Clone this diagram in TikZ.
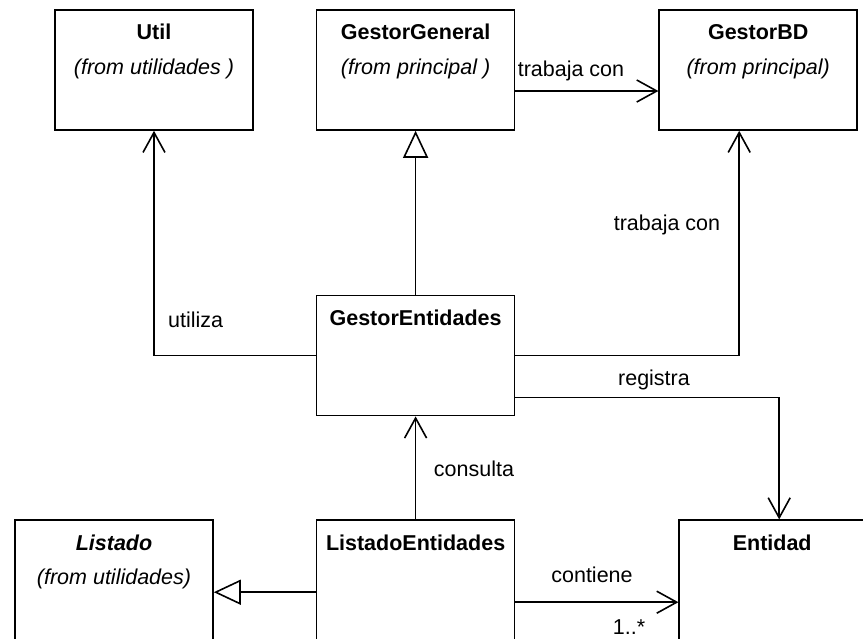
\documentclass[tikz,border=0pt]{standalone}
\usepackage{fontspec}
\setmainfont{Liberation Sans}
\usetikzlibrary{arrows.meta,positioning}

\begin{document}
\begin{tikzpicture}[
  x=1pt,y=-1pt,
  node distance=164pt and 62pt,
  cls/.style={draw,line width=1.6pt,minimum width=198pt,minimum height=120pt,inner sep=0pt},
  cname/.style={font=\fontsize{21.5}{26}\selectfont\bfseries,inner sep=0pt},
  from/.style={font=\fontsize{21.5}{26}\selectfont\itshape,inner sep=0pt},
  lbl/.style={font=\fontsize{21.5}{26}\selectfont,inner sep=0pt},
  dep/.style={line width=1.6pt,-{Straight Barb[length=20pt,width=22pt]}},
  gen/.style={line width=1.6pt,-{Triangle[open,length=27pt,width=25pt,fill=white]}},
]
\useasboundingbox (0,0) rectangle (863,638);
\clip (0,0) rectangle (863,638);
\node[cls] (util) at (154,70) {};
\node[cls,right=of util] (gestorgen) {};
\node[cls,right=143pt of gestorgen] (gestorbd) {};
\node[cls,below=of gestorgen] (gestorent) {};
\node[cls,below=103pt of gestorent] (listent) {};
\node[cls,left=102pt of listent] (listado) {};
\node[cls,minimum width=186pt,right=163pt of listent] (entidad) {};
% class names
\node[cname] (utilname) at ([yshift=-23pt]util.north) {Util};
\node[from] (utilfrom) at ([yshift=-60pt]util.north) {(from utilidades )};
\node[cname] (gestorgenname) at ([yshift=-23pt]gestorgen.north) {GestorGeneral};
\node[from] (gestorgenfrom) at ([yshift=-60pt]gestorgen.north) {(from principal )};
\node[cname] (gestorbdname) at ([yshift=-23pt]gestorbd.north) {GestorBD};
\node[from] (gestorbdfrom) at ([yshift=-60pt]gestorbd.north) {(from principal)};
\node[cname] (gestorentname) at ([yshift=-23pt]gestorent.north) {GestorEntidades};
\node[cname] (listentname) at ([yshift=-23pt]listent.north) {ListadoEntidades};
\node[cname,font=\fontsize{21.5}{26}\selectfont\bfseries\itshape] (listadoname) at ([yshift=-23pt]listado.north) {Listado};
\node[from] (listadofrom) at ([yshift=-60pt]listado.north) {(from utilidades)};
\node[cname] (entidadname) at ([yshift=-23pt]entidad.north) {Entidad};
% connectors
\coordinate (tcA) at ([yshift=-21pt]gestorgen.east);
\coordinate (tcB) at ([xshift=-19pt]gestorbd.south);
\coordinate (regA) at ([yshift=-42pt]gestorent.east);
\coordinate (regB) at ([xshift=7pt]entidad.north);
\coordinate (genA) at ([yshift=-12pt]listent.west);
\coordinate (conA) at ([yshift=-22pt]listent.east);
\draw[dep] (gestorent.west) -| (util.south);
\draw[gen] (gestorent.north) -- (gestorgen.south);
\draw[dep] (tcA) -- (tcA -| gestorbd.west);
\draw[dep] (gestorent.east) -| (tcB);
\draw[dep] (regA) -| (regB);
\draw[dep] (listent.north) -- (gestorent.south);
\draw[gen] (genA) -- (genA -| listado.east);
\draw[dep] (conA) -- (conA -| entidad.west);
% labels
\node[lbl,anchor=west] (utiliza) at (168,320) {utiliza};
\node[lbl] (trabaja1) at (571,71) {trabaja con};
\node[lbl] (trabaja2) at (667,225) {trabaja con};
\node[lbl] (registra) at (654,380) {registra};
\node[lbl] (consulta) at (474,469) {consulta};
\node[lbl] (contiene) at (592,575) {contiene};
\node[lbl,anchor=base] (mult) at (629,634) {1..*};
\end{tikzpicture}
\end{document}
